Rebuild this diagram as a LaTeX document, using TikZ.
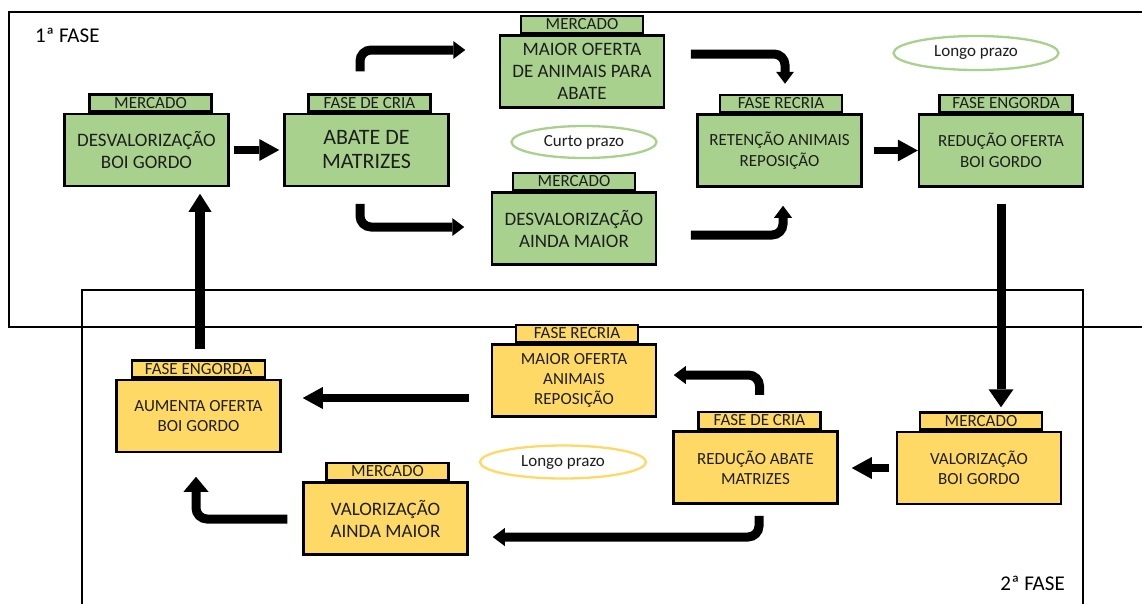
\documentclass[tikz,border=0pt]{standalone}
\usepackage{fontspec}
\setmainfont{Carlito}
\usetikzlibrary{arrows.meta,calc,shapes.geometric}
\definecolor{gfill}{HTML}{A9D18E}
\definecolor{yfill}{HTML}{FFD966}
\definecolor{txt}{HTML}{1E1E1E}
\tikzset{
  frame/.style={draw=black, line width=2.3pt},
  boxbase/.style={draw=black, line width=2.5pt, minimum width=164pt, minimum height=72pt, align=center, inner sep=0pt, text=txt},
  gbox/.style={boxbase, fill=gfill, font=\fontsize{19}{22}\selectfont},
  ybox/.style={boxbase, fill=yfill, font=\fontsize{17}{20}\selectfont},
  tabbase/.style={draw=black, line width=2.5pt, minimum width=122pt, minimum height=17pt, inner sep=0pt, anchor=south, text=txt, font=\fontsize{17}{17}\selectfont},
  gtab/.style={tabbase, fill=gfill},
  ytab/.style={tabbase, fill=yfill},
  oval/.style={ellipse, line width=2.3pt, inner sep=0pt, text=txt, font=\fontsize{17}{20}\selectfont},
  sarr/.style={draw=black, line width=7.5pt, -{Triangle[width=22pt,length=20pt,line width=0pt]}},
  barr/.style={draw=black, line width=9pt, rounded corners=11pt, -{Triangle[width=18pt,length=12pt,line width=0pt]}},
  varr/.style={draw=black, line width=9pt, -{Triangle[width=25pt,length=18pt,line width=0pt]}},
  phase/.style={inner sep=0pt, font=\fontsize{21}{24}\selectfont, text=black}
}
\begin{document}
\begin{tikzpicture}[x=1pt,y=-1pt]
\useasboundingbox (0,0) rectangle (1142,603);
\clip (0,0) rectangle (1142,603);
\fill[white] (0,0) rectangle (1142,603);
% frames
\draw[frame] (9,12) rectangle (1160,327);
\draw[frame] (82,290) rectangle (1083,620);
\node[phase, anchor=west] (f1) at (35,35) {1ª FASE};
\node[phase, anchor=east] (f2) at (1065,583) {2ª FASE};
% ellipses
\node[oval, draw=gfill, minimum width=145pt, minimum height=32pt] (e1) at (584,142) {Curto prazo};
\node[oval, draw=gfill, minimum width=165pt, minimum height=34pt] (e2) at (976,53) {Longo prazo};
\node[oval, draw=yfill, minimum width=166pt, minimum height=33pt] (e3) at (563,462) {Longo prazo};
% top boxes
\node[gbox] (b1) at (146.5,150) {DESVALORIZAÇÃO\\BOI GORDO};
\node[gbox, font=\fontsize{22}{24}\selectfont] (b2) at (366.5,150) {ABATE DE\\MATRIZES};
\node[gbox] (b3) at (582,71.5) {MAIOR OFERTA\\DE ANIMAIS PARA\\ABATE};
\node[gbox] (b4) at (574,228.5) {DESVALORIZAÇÃO\\AINDA MAIOR};
\node[gbox, font=\fontsize{17}{21}\selectfont] (b5) at (779.5,150.5) {RETENÇÃO ANIMAIS\\REPOSIÇÃO};
\node[gbox, font=\fontsize{17}{21}\selectfont] (b6) at (1001,150.5) {REDUÇÃO OFERTA\\BOI GORDO};
\node[gtab] (t1) at ([xshift=4pt]b1.north) {MERCADO};
\node[gtab] (t2) at ([xshift=3pt]b2.north) {FASE DE CRIA};
\node[gtab] (t3) at (b3.north) {MERCADO};
\node[gtab] (t4) at (b4.north) {MERCADO};
\node[gtab] (t5) at ([xshift=1.5pt]b5.north) {FASE RECRIA};
\node[gtab, minimum width=133pt] (t6) at ([xshift=5pt]b6.north) {FASE ENGORDA};
% bottom boxes
\node[ybox] (bA) at (198.5,416) {AUMENTA OFERTA\\BOI GORDO};
\node[ybox, font=\fontsize{19}{22}\selectfont] (bB) at (385.5,518.5) {VALORIZAÇÃO\\AINDA MAIOR};
\node[ybox] (bC) at (574,380.5) {MAIOR OFERTA\\ANIMAIS\\REPOSIÇÃO};
\node[ybox] (bD) at (755.5,467.5) {REDUÇÃO ABATE\\MATRIZES};
\node[ybox] (bE) at (979,468) {VALORIZAÇÃO\\BOI GORDO};
\node[ytab, minimum width=133pt] (tA) at (bA.north) {FASE ENGORDA};
\node[ytab] (tB) at ([xshift=2pt]bB.north) {MERCADO};
\node[ytab] (tC) at ([xshift=3pt]bC.north) {FASE RECRIA};
\node[ytab] (tD) at ([xshift=4pt]bD.north) {FASE DE CRIA};
\node[ytab] (tE) at ([xshift=2pt]bE.north) {MERCADO};
% arrows, 1st phase
\draw[sarr, shorten <=4pt, shorten >=4pt] (b1.east) -- (b2.west);
\draw[barr] ($(b2.north)+(-6.5,-41.5)$) |- ($(b3.west)+(-33.5,-21.5)$);
\draw[barr] ($(b2.south)+(-6.5,16.5)$) |- ($(b4.west)+(-26.5,-1.5)$);
\draw[barr] ($(b3.east)+(25.5,-17.5)$) -| ($(t5.north)+(4,-10)$);
\draw[barr] ($(b4.east)+(33.5,6.5)$) -| ($(b5.south)+(3.5,18)$);
\draw[sarr, shorten <=11pt] (b5.east) -- (b6.west);
\draw[varr, shorten <=16pt, shorten >=4pt] (b6.south) -- (b6.south |- tE.north);
% arrows, 2nd phase
\draw[sarr, shorten <=6.5pt, shorten >=13pt] (bE.west) -- (bE.west -| bD.east);
\draw[barr] ($(tD.north)+(0,-16)$) |- ($(bC.east)+(16.5,-5.5)$);
\draw[barr] ($(bD.south)+(3.5,11)$) |- ($(bB.east)+(24,18.5)$);
\draw[sarr] ($(bC.west)+(-21.5,17.5)$) -- ($(bA.east)+(21,-18)$);
\draw[barr, -{Triangle[width=25pt,length=15pt,line width=0pt]}] ($(bB.west)+(-15,0.5)$) -| ($(bA.south)+(-2.5,23.5)$);
\draw[varr, line width=10pt, -{Triangle[width=23pt,length=18pt,line width=0pt]}] ($(tA.north)+(1.5,-10.5)$) -- ($(b1.south)+(53.5,6.5)$);
\end{tikzpicture}
\end{document}
